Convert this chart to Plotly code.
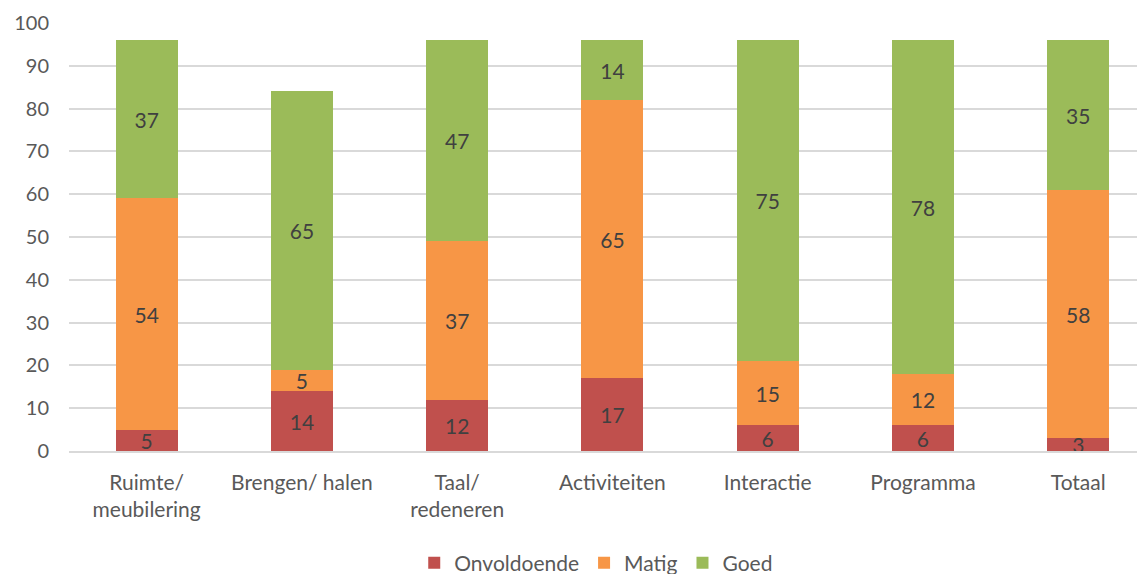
import plotly.graph_objects as go

categories = ["Ruimte/<br>meubilering", "Brengen/ halen", "Taal/<br>redeneren",
              "Activiteiten", "Interactie", "Programma", "Totaal"]
onvoldoende = [5, 14, 12, 17, 6, 6, 3]
matig = [54, 5, 37, 65, 15, 12, 58]
goed = [37, 65, 47, 14, 75, 78, 35]

series = [
    ("Onvoldoende", onvoldoende, "#C0504D"),
    ("Matig", matig, "#F79646"),
    ("Goed", goed, "#9BBB59"),
]

font_family = "Lato, 'Open Sans', sans-serif"

fig = go.Figure()
for name, values, color in series:
    fig.add_trace(go.Bar(
        x=categories, y=values, name=name,
        marker=dict(color=color, line=dict(width=0)),
        text=values, textposition="inside", insidetextanchor="middle",
        textangle=0, constraintext="none",
        textfont=dict(size=21, color="#404040", family=font_family),
    ))

# page body adds an 8px offset, so the figure is drawn 8px smaller
fig.update_layout(
    barmode="stack",
    bargap=0.6,
    width=1137, height=566,
    margin=dict(l=61, r=0, t=15, b=123, autoexpand=False),
    plot_bgcolor="white", paper_bgcolor="white",
    font=dict(family=font_family, size=20, color="#595959"),
    xaxis=dict(range=[-0.5, 6.43], showline=True, linecolor="#D9D9D9", linewidth=1.5,
               ticks="", ticklabelstandoff=12, automargin=False,
               tickfont=dict(size=21)),
    yaxis=dict(range=[0, 100], dtick=10, showgrid=True, gridcolor="#D9D9D9", gridwidth=1.5,
               zeroline=False, ticks="", ticklabelstandoff=19, automargin=False),
    legend=dict(orientation="h", x=0.49, xanchor="center", y=-0.262, yanchor="middle",
                font=dict(size=21, color="#595959"), traceorder="normal"),
)

fig.write_html("out.html")
